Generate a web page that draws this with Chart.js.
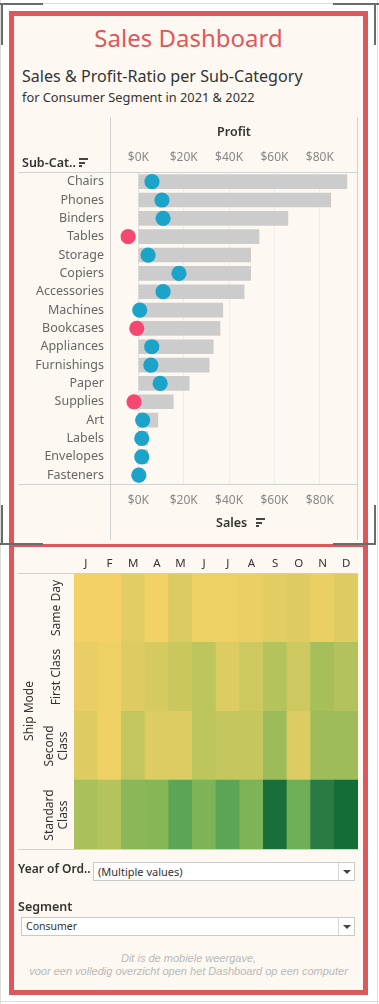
<!DOCTYPE html>
<html><head><meta charset="utf-8">
<script src="https://cdn.jsdelivr.net/npm/chart.js@4.4.1/dist/chart.umd.min.js"></script>
<style>
html,body{margin:0;padding:0;background:#fff;}
body{width:379px;height:1004px;position:relative;overflow:hidden;font-family:"Noto Sans",sans-serif;color:#333;}
.a{position:absolute;}
#frame{left:9px;top:11px;width:349px;height:974px;border:5px solid #e0575b;background:#fdf9f2;}
.dk{background:#6b6b6b;}
.lt{background:#dcdcdc;}
.ln{background:#d2d2d2;}
.hdr{font-weight:600;font-size:12.5px;color:#333;white-space:nowrap;}
.sort div{position:absolute;left:0;height:2px;background:#444;}
.dd{background:#fff;border:1px solid #c9c9c9;box-sizing:border-box;}
.dd .t{position:absolute;left:4px;top:0;line-height:17px;font-size:11px;color:#333;white-space:nowrap;}
.dd .sep{position:absolute;top:0;bottom:0;width:1px;background:#d6d6d6;}
.dd .arr{position:absolute;width:0;height:0;border-left:4px solid transparent;border-right:4px solid transparent;border-top:4px solid #444;}
.foot{left:14px;width:349px;text-align:center;font-family:"Liberation Sans",Arial,sans-serif;font-style:italic;font-size:11px;color:#b8b8b8;white-space:nowrap;}
.rl{font-size:12px;color:#333;text-align:center;line-height:14px;transform-origin:center center;}
</style></head>
<body>
<!-- outer light frame -->
<div class="a lt" style="left:0;top:3px;width:379px;height:1px;"></div>
<div class="a lt" style="left:0;top:0;width:1px;height:1004px;"></div>
<div class="a lt" style="left:377px;top:0;width:1px;height:1004px;"></div>
<div class="a lt" style="left:0;top:1001px;width:379px;height:1px;"></div>
<div id="frame" class="a"></div>
<div class="a" style="left:9px;top:544px;width:359px;height:3px;background:#e0575b;"></div>
<!-- corner brackets -->
<div class="a dk" style="left:0;top:3px;width:43px;height:2px;"></div>
<div class="a dk" style="left:1px;top:3px;width:2px;height:42px;"></div>
<div class="a dk" style="left:333px;top:3px;width:46px;height:2px;"></div>
<div class="a dk" style="left:374px;top:3px;width:2px;height:42px;"></div>
<div class="a dk" style="left:0;top:543px;width:43px;height:2px;"></div>
<div class="a dk" style="left:1px;top:505px;width:2px;height:40px;"></div>
<div class="a dk" style="left:333px;top:543px;width:43px;height:2px;"></div>
<div class="a dk" style="left:374px;top:505px;width:2px;height:40px;"></div>

<div class="a" style="left:14px;top:21px;width:349px;text-align:center;font-size:24px;line-height:34px;color:#e0575b;">Sales Dashboard</div>
<div class="a" style="left:22px;top:65px;font-size:16.1px;line-height:22px;color:#333;white-space:nowrap;">Sales &amp; Profit-Ratio per Sub-Category</div>
<div class="a" style="left:22px;top:88px;font-size:12.8px;line-height:18px;color:#333;white-space:nowrap;">for Consumer Segment in 2021 &amp; 2022</div>

<!-- bar chart frame lines -->
<div class="a ln" style="left:110px;top:117px;width:1px;height:423px;"></div>
<div class="a ln" style="left:357px;top:117px;width:1px;height:423px;"></div>
<div class="a ln" style="left:18px;top:172px;width:340px;height:1px;"></div>
<div class="a ln" style="left:18px;top:484px;width:340px;height:1px;"></div>

<canvas id="c1" class="a" style="left:18px;top:117px;" width="340" height="423"></canvas>

<div class="a hdr" style="left:22px;top:154px;line-height:17px;">Sub-Cat..</div>
<div class="a sort" style="left:79px;top:158px;width:10px;height:10px;"><div style="top:0;width:9px;"></div><div style="top:3.5px;width:6px;"></div><div style="top:7px;width:3px;"></div></div>
<div class="a hdr" style="left:200px;top:123px;width:68px;text-align:center;line-height:17px;">Profit</div>
<div class="a hdr" style="left:216px;top:514px;line-height:17px;">Sales</div>
<div class="a sort" style="left:256px;top:518px;width:10px;height:10px;"><div style="top:0;width:9px;"></div><div style="top:3.5px;width:6px;"></div><div style="top:7px;width:3px;"></div></div>

<!-- heatmap -->
<div class="a ln" style="left:18px;top:573px;width:340px;height:1px;"></div>
<canvas id="c2" class="a" style="left:18px;top:545px;" width="340" height="305"></canvas>
<div class="a ln" style="left:18px;top:849px;width:340px;height:1px;"></div>
<div id="rowLabels"></div>
<div class="a rl" style="left:-1px;top:704px;width:60px;transform:rotate(-90deg);">Ship Mode</div>

<!-- filters -->
<div class="a hdr" style="left:18px;top:860px;font-size:12px;line-height:18px;">Year of Ord..</div>
<div class="a dd" style="left:93px;top:862px;width:262px;height:19px;">
  <div class="t">(Multiple values)</div><div class="sep" style="left:244px;"></div><div class="arr" style="left:249px;top:7px;"></div>
</div>
<div class="a hdr" style="left:18px;top:898px;font-size:12.5px;line-height:18px;">Segment</div>
<div class="a dd" style="left:21px;top:917px;width:334px;height:19px;">
  <div class="t" style="font-size:10.5px;">Consumer</div><div class="sep" style="left:316px;"></div><div class="arr" style="left:321px;top:7px;"></div>
</div>
<div class="a foot" style="top:951px;line-height:14px;">Dit is de mobiele weergave,</div>
<div class="a foot" style="top:964px;line-height:14px;">voor een volledig overzicht open het Dashboard op een computer</div>

<script>
// ---------- data: Sales & Profit per Sub-Category (in $K) ----------
const subCategories = ['Chairs','Phones','Binders','Tables','Storage','Copiers','Accessories','Machines','Bookcases','Appliances','Furnishings','Paper','Supplies','Art','Labels','Envelopes','Fasteners'];
const salesK  = [91.9, 84.8, 65.9, 53.2, 49.5, 49.5, 46.6, 37.2, 36.0, 33.0, 31.2, 22.4, 15.4, 8.6, 4.0, 4.0, 1.0];
const profitK = [6.0, 10.4, 10.9, -4.5, 4.3, 17.9, 10.9, 0.6, -0.7, 5.9, 5.5, 9.6, -1.9, 1.9, 1.5, 1.5, 0.2];
const salesTicks = [0, 20, 40, 60, 80];

// ---------- data: heatmap of Sales by Ship Mode x Month (in $K) ----------
const months = ['J','F','M','A','M','J','J','A','S','O','N','D'];
const shipModes = ['Same Day','First Class','Second Class','Standard Class'];
const salesSameDay  = [1.2, 1.2, 2.1, 1.2, 2.6, 1.5, 1.5, 1.6, 2.1, 2.3, 1.6, 2.3];
const salesFirst    = [1.8, 1.5, 2.3, 2.8, 3.4, 4.0, 2.4, 3.2, 4.4, 3.2, 5.2, 4.5];
const salesSecond   = [2.3, 1.5, 3.7, 2.4, 2.4, 4.0, 3.6, 3.6, 5.8, 2.4, 5.6, 5.6];
const salesStandard = [5.0, 4.4, 6.6, 6.9, 9.3, 7.4, 9.3, 7.4, 16.5, 8.2, 14.9, 17.0];

Chart.defaults.font.family = '"Noto Sans", sans-serif';

const BLUE = '#1ba3c9', PINK = '#f5476f';
const X_MIN = -12.5, X_MAX = 96.8;
const setTicks = s => { s.ticks = salesTicks.map(v => ({value: v})); };
const kFmt = v => '$' + v + 'K';
const noPad = h => s => { s.height = h; s.paddingLeft = 0; s.paddingRight = 0; };

const zeroLine = {
  id: 'zeroLine',
  beforeDatasetsDraw(chart) {
    const x = chart.scales.x, a = chart.chartArea, ctx = chart.ctx;
    const px = Math.round(x.getPixelForValue(0)) + 0.5;
    ctx.save(); ctx.strokeStyle = '#b5b5b5'; ctx.lineWidth = 1; ctx.setLineDash([1, 2]);
    ctx.beginPath(); ctx.moveTo(px, a.top); ctx.lineTo(px, a.bottom); ctx.stroke(); ctx.restore();
  }
};

new Chart(document.getElementById('c1'), {
  type: 'bar',
  data: {
    labels: subCategories,
    datasets: [
      { type: 'line', label: 'Profit', data: profitK, showLine: false, pointRadius: 7.6, pointHoverRadius: 7.6,
        pointBackgroundColor: profitK.map(v => v < 0 ? PINK : BLUE), pointBorderWidth: 0, order: 0,
        xAxisID: 'x', yAxisID: 'y', clip: false },
      { type: 'bar', label: 'Sales', data: salesK, backgroundColor: '#cccccc', barThickness: 14, order: 1,
        xAxisID: 'x', yAxisID: 'y' }
    ]
  },
  options: {
    indexAxis: 'y', responsive: false, animation: false, events: [],
    layout: { padding: 0, autoPadding: false },
    plugins: { legend: { display: false }, tooltip: { enabled: false } },
    scales: {
      x: { type: 'linear', position: 'bottom', min: X_MIN, max: X_MAX, afterBuildTicks: setTicks,
           ticks: { callback: kFmt, color: '#888', font: { size: 12 }, padding: 9 },
           grid: { color: c => (c.tick && c.tick.value === 0) ? 'rgba(0,0,0,0)' : '#ececec', drawTicks: false },
           border: { display: false }, afterFit: noPad(55.7) },
      x2: { type: 'linear', position: 'top', min: X_MIN, max: X_MAX, afterBuildTicks: setTicks,
           ticks: { callback: kFmt, color: '#888', font: { size: 12 }, padding: 8 },
           grid: { display: false, drawTicks: false }, border: { display: false }, afterFit: noPad(55.5) },
      y: { type: 'category', ticks: { color: '#666', font: { size: 12.5 }, padding: 6 },
           grid: { display: false, drawTicks: false }, border: { display: false },
           afterFit: s => { s.width = 92; s.paddingTop = 0; s.paddingBottom = 0; } }
    }
  },
  plugins: [zeroLine]
});

// ---------- heatmap ----------
const GG = ['#f4d166','#d5ca60','#b6c35c','#98bb59','#7cb257','#60a656','#4b9c53','#3f8f4f','#33834a','#257740','#146c36'];
const allVals = [].concat(salesSameDay, salesFirst, salesSecond, salesStandard);
const vMin = Math.min(...allVals), vMax = Math.max(...allVals);
function hex(h){ return [parseInt(h.slice(1,3),16), parseInt(h.slice(3,5),16), parseInt(h.slice(5,7),16)]; }
function colorFor(v) {
  const t = Math.max(0, Math.min(1, (v - vMin) / (vMax - vMin))) * (GG.length - 1);
  const i = Math.min(GG.length - 2, Math.floor(t)), f = t - i;
  const a = hex(GG[i]), b = hex(GG[i + 1]);
  return 'rgb(' + a.map((c, k) => Math.round(c + (b[k] - c) * f)).join(',') + ')';
}
const rows = [salesStandard, salesSecond, salesFirst, salesSameDay]; // bottom to top
const rowNames = [shipModes[3], shipModes[2], shipModes[1], shipModes[0]];
const hm = new Chart(document.getElementById('c2'), {
  type: 'bar',
  data: {
    labels: months,
    datasets: rows.map((vals, i) => ({
      label: rowNames[i], data: vals.map(() => 1), backgroundColor: vals.map(colorFor),
      borderWidth: 0, barPercentage: 1, categoryPercentage: 1, stack: 's'
    }))
  },
  options: {
    responsive: false, animation: false, events: [],
    layout: { padding: { left: 56, right: 0, top: 0, bottom: 1 }, autoPadding: false },
    plugins: { legend: { display: false }, tooltip: { enabled: false } },
    scales: {
      x: { position: 'top', stacked: true, ticks: { color: '#333', font: { size: 11.5 }, padding: 3, autoSkip: false, maxRotation: 0 },
           grid: { display: false, drawTicks: false }, border: { display: false }, afterFit: noPad(28.5) },
      y: { stacked: true, min: 0, max: 4, display: false }
    }
  }
});
// row headers placed from the heatmap's y scale
const ys = hm.scales.y, host = document.getElementById('rowLabels');
rows.forEach((vals, i) => {
  const cy = 545 + ys.getPixelForValue(i + 0.5);
  const d = document.createElement('div');
  d.className = 'a rl';
  d.textContent = rowNames[i];
  d.style.width = '64px';
  d.style.left = (56 - 32) + 'px';
  d.style.top = (cy - 14) + 'px';
  d.style.height = '28px';
  d.style.display = 'flex'; d.style.alignItems = 'center'; d.style.justifyContent = 'center';
  d.style.transform = 'rotate(-90deg)';
  host.appendChild(d);
});
</script>
</body></html>
